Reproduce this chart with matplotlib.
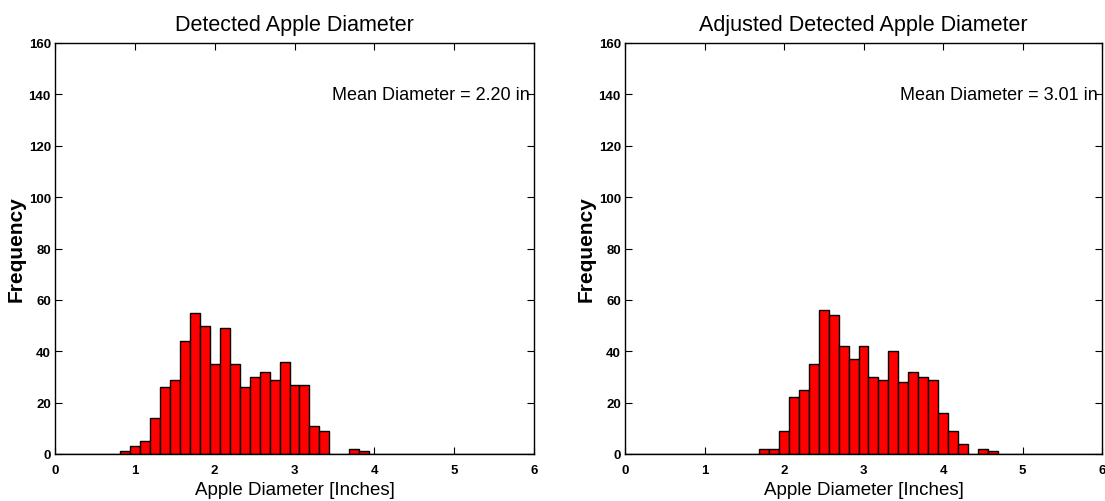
import numpy as np
import matplotlib
matplotlib.use("Agg")
import matplotlib.pyplot as plt

plt.rcParams['font.family'] = ['Liberation Sans', 'DejaVu Sans']

# Histogram bin centres (inches), 1/8-inch bins covering 0..6
bin_centers = np.arange(0, 6.0001, 0.125)
bin_width = 0.125

# Counts per bin, keyed by bin centre
detected_counts = {
    0.875: 1, 1.0: 3, 1.125: 5, 1.25: 14, 1.375: 26, 1.5: 29, 1.625: 44,
    1.75: 55, 1.875: 50, 2.0: 35, 2.125: 49, 2.25: 35, 2.375: 26, 2.5: 30,
    2.625: 32, 2.75: 29, 2.875: 36, 3.0: 27, 3.125: 27, 3.25: 11, 3.375: 9,
    3.75: 2, 3.875: 1,
}
adjusted_counts = {
    1.75: 2, 1.875: 2, 2.0: 9, 2.125: 22, 2.25: 25, 2.375: 35, 2.5: 56,
    2.625: 54, 2.75: 42, 2.875: 37, 3.0: 42, 3.125: 30, 3.25: 29, 3.375: 40,
    3.5: 28, 3.625: 32, 3.75: 30, 3.875: 29, 4.0: 16, 4.125: 9, 4.25: 4,
    4.5: 2, 4.625: 1,
}

titles = ["Detected Apple Diameter", "Adjusted Detected Apple Diameter"]
mean_labels = ["Mean Diameter = 2.20 in", "Mean Diameter = 3.01 in"]
x_ticks = [0, 1, 2, 3, 4, 5, 6]
y_ticks = [0, 20, 40, 60, 80, 100, 120, 140, 160]

W, H = 1105, 502
fig = plt.figure(figsize=(W / 100, H / 100), dpi=100)

axes_px = [(55, 534), (625, 1102)]
top_px, bot_px = 44, 455

for i, (counts, title, mlabel) in enumerate(
        zip([detected_counts, adjusted_counts], titles, mean_labels)):
    x0, x1 = axes_px[i]
    ax = fig.add_axes([x0 / W, (H - bot_px) / H, (x1 - x0) / W,
                       (bot_px - top_px) / H])
    heights = [counts.get(round(c, 3), 0) for c in bin_centers]
    ax.bar(bin_centers, heights, width=bin_width, color='#ff0000',
           edgecolor='black', linewidth=1.0, align='center', zorder=2)
    ax.set_xlim(0, 6)
    ax.set_ylim(0, 160)
    ax.set_xticks(x_ticks)
    ax.set_yticks(y_ticks)
    ax.tick_params(direction='in', length=5, width=0.8, top=True, right=True,
                   labelsize=9.5, colors='black')
    ax.tick_params(axis='y', pad=3)
    ax.tick_params(axis='x', pad=7)
    for lab in ax.get_xticklabels() + ax.get_yticklabels():
        lab.set_fontweight('bold')
    for sp in ax.spines.values():
        sp.set_linewidth(1.0)
        sp.set_zorder(3)
    ax.set_title(title, fontsize=15.5, pad=9)
    ax.set_xlabel("Apple Diameter [Inches]", fontsize=13.5, labelpad=4)
    ax.set_ylabel("Frequency", fontsize=15, fontweight='bold')
    ax.yaxis.set_label_coords(-29 / (x1 - x0), 0.5)
    ax.text(5.95, 140, mlabel, ha='right', va='center', fontsize=13)

fig.savefig("out.png", dpi=100)
